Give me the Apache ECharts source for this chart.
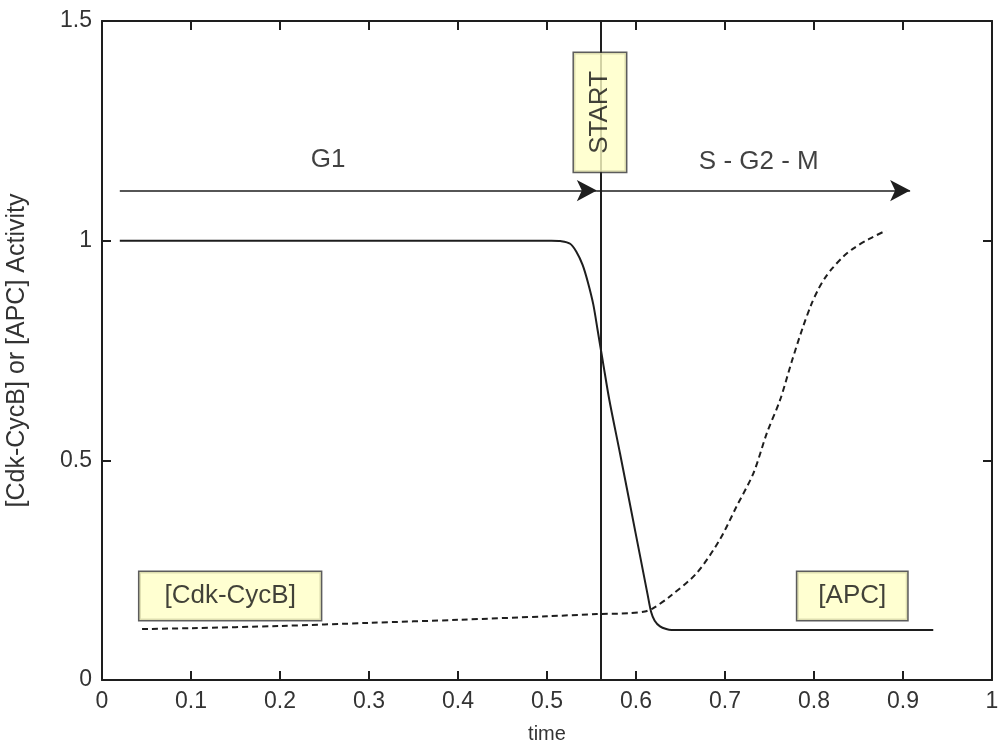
<!DOCTYPE html>
<html>
<head>
<meta charset="utf-8">
<script src="https://cdn.jsdelivr.net/npm/echarts@6/dist/echarts.min.js"></script>
<style>
  html, body { margin: 0; padding: 0; background: #fff; }
  #chart { width: 1000px; height: 751px; }
</style>
</head>
<body>
<div id="chart"></div>
<script>
// solid curve: activity drops at START
var solidX = [0.02, 0.3, 0.505, 0.515, 0.526, 0.533, 0.54, 0.546, 0.552, 0.557, 0.563, 0.57, 0.582, 0.594, 0.605, 0.613, 0.617, 0.621, 0.627, 0.634, 0.64, 0.934];
var solidY = [1, 1, 1, 0.999, 0.993, 0.975, 0.945, 0.905, 0.855, 0.795, 0.722, 0.638, 0.516, 0.392, 0.278, 0.195, 0.155, 0.135, 0.122, 0.116, 0.114, 0.114];

// dashed curve: rises after START
var dashX = [0.045, 0.1, 0.2, 0.3, 0.4, 0.5, 0.556, 0.593, 0.61, 0.619, 0.638, 0.668, 0.694, 0.713, 0.732, 0.747, 0.762, 0.775, 0.787, 0.797, 0.805, 0.813, 0.821, 0.833, 0.844, 0.862, 0.881];
var dashY = [0.116, 0.118, 0.123, 0.13, 0.137, 0.145, 0.15, 0.152, 0.156, 0.163, 0.19, 0.243, 0.319, 0.395, 0.471, 0.562, 0.638, 0.725, 0.8, 0.855, 0.89, 0.917, 0.938, 0.964, 0.982, 1.004, 1.023];

// tick positions (matlab style, drawn inside on all four sides)
var xTicks = [0.1, 0.2, 0.3, 0.4, 0.5, 0.6, 0.7, 0.8, 0.9];
var yTicks = [0.5, 1];

var startX = 0.556;
var arrowY = 1.114;
var arrowStarts = [0.02, 0.556];
var arrowEnds = [0.556, 0.908];

var labelNames = ['G1', 'S - G2 - M'];
var labelPos = [[0.254, 1.184], [0.738, 1.18]];

var boxNames = ['START', '[Cdk-CycB]', '[APC]'];
var boxPos = [[0.5595, 1.292], [0.144, 0.191], [0.843, 0.191]];

function zip(a, b) {
  var out = [];
  for (var i = 0; i < a.length; i++) out.push([a[i], b[i]]);
  return out;
}

var ink = '#1e1e1e';
var fontFam = '"Liberation Sans", Arial, sans-serif';
var xr = { min: 0, max: 1, interval: 0.1 };
var yr = { min: 0, max: 1.5, interval: 0.5 };
// tick length ~9px expressed in axis units (plot is 890 x 659 px)
var tickDx = 0.0101;
var tickDy = 0.0205;

function frameAxis(extra) {
  return Object.assign({
    type: 'value',
    axisLine: { show: true, onZero: false, lineStyle: { color: ink, width: 2 } },
    axisTick: { show: false },
    axisLabel: { show: false },
    splitLine: { show: false }
  }, extra);
}

// vertical START line + inner tick marks
var refLines = [{ xAxis: startX }];
xTicks.forEach(function (v) {
  refLines.push([{ coord: [v, yr.min] }, { coord: [v, yr.min + tickDy] }]);
  refLines.push([{ coord: [v, yr.max] }, { coord: [v, yr.max - tickDy] }]);
});
yTicks.forEach(function (v) {
  refLines.push([{ coord: [xr.min, v] }, { coord: [xr.min + tickDx, v] }]);
  refLines.push([{ coord: [xr.max, v] }, { coord: [xr.max - tickDx, v] }]);
});

var arrowData = [];
for (var i = 0; i < arrowStarts.length; i++) {
  arrowData.push([{ coord: [arrowStarts[i], arrowY] }, { coord: [arrowEnds[i], arrowY] }]);
}

var boxData = [];
for (var j = 0; j < boxNames.length; j++) {
  var isStart = boxNames[j] === 'START';
  boxData.push({
    value: boxPos[j],
    name: boxNames[j],
    label: {
      rotate: isStart ? 90 : 0,
      padding: isStart ? [13, 18] : (j === 1 ? [11, 25] : [11, 21])
    }
  });
}

var chart = echarts.init(document.getElementById('chart'));
var option = {
  backgroundColor: '#fff',
  animation: false,
  textStyle: { fontFamily: fontFam },
  grid: { left: 102, right: 8, top: 21, bottom: 71, outerBoundsMode: 'none', containLabel: false },
  xAxis: [
    frameAxis(Object.assign({
      position: 'bottom',
      name: 'time', nameLocation: 'middle', nameGap: 44,
      nameTextStyle: { color: '#333', fontSize: 20, fontFamily: fontFam },
      axisLabel: { show: true, color: '#333', fontSize: 23, margin: 10, fontFamily: fontFam }
    }, xr)),
    frameAxis(Object.assign({ position: 'top' }, xr))
  ],
  yAxis: [
    frameAxis(Object.assign({
      position: 'left',
      name: '[Cdk-CycB] or [APC] Activity', nameLocation: 'middle', nameGap: 72,
      nameTextStyle: { color: '#333', fontSize: 25, fontFamily: fontFam },
      axisLabel: { show: true, color: '#333', fontSize: 23, margin: 10, fontFamily: fontFam }
    }, yr)),
    frameAxis(Object.assign({ position: 'right' }, yr))
  ],
  series: [
    {
      name: 'solid',
      type: 'line',
      data: zip(solidX, solidY),
      showSymbol: false,
      smooth: 0.3,
      lineStyle: { color: ink, width: 2 },
      markLine: {
        silent: true,
        symbol: ['none', 'none'],
        label: { show: false },
        lineStyle: { color: ink, width: 2, type: 'solid' },
        data: refLines
      }
    },
    {
      name: 'dashed',
      type: 'line',
      data: zip(dashX, dashY),
      showSymbol: false,
      smooth: 0.3,
      lineStyle: { color: ink, width: 2, type: [6, 4] },
      markLine: {
        silent: true,
        symbol: ['none', 'arrow'],
        symbolSize: [16, 20],
        label: { show: false },
        lineStyle: { color: ink, width: 1.6, type: 'solid' },
        data: arrowData
      }
    },
    {
      name: 'phases',
      type: 'scatter',
      symbolSize: 0,
      silent: true,
      data: labelPos.map(function (p, k) {
        return { value: p, name: labelNames[k] };
      }),
      label: {
        show: true, position: 'inside', formatter: '{b}',
        color: '#111', fontSize: 26, fontFamily: fontFam
      }
    },
    {
      name: 'boxes',
      type: 'scatter',
      symbolSize: 0,
      silent: true,
      z: 5,
      data: boxData,
      label: {
        show: true, position: 'inside', formatter: '{b}',
        color: '#111', fontSize: 26, fontFamily: fontFam,
        backgroundColor: '#ffffc6', borderColor: '#333', borderWidth: 1.5
      }
    }
  ]
};
chart.setOption(option);
</script>
</body>
</html>
